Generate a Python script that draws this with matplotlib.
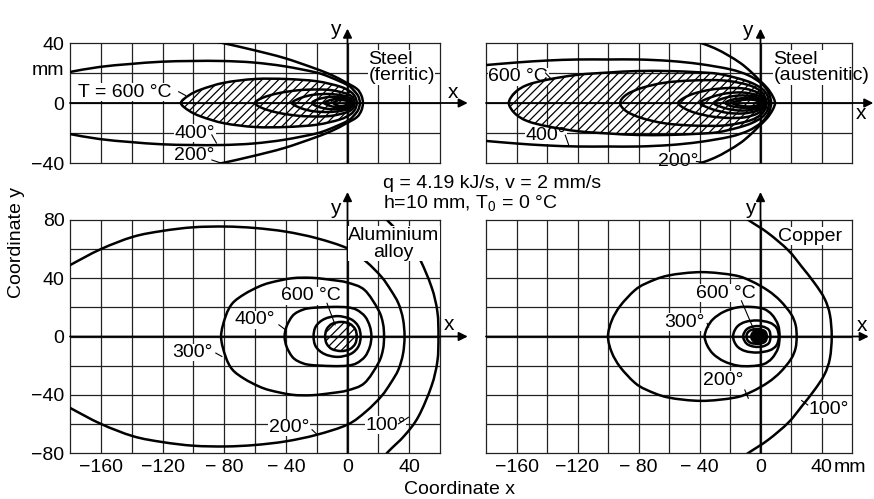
import numpy as np
import matplotlib
matplotlib.use('Agg')
import matplotlib.pyplot as plt
from matplotlib.path import Path
from matplotlib.patches import PathPatch
from matplotlib.transforms import offset_copy

plt.rcParams['font.family'] = ['Liberation Sans', 'DejaVu Sans']
plt.rcParams['mathtext.default'] = 'regular'
plt.rcParams['hatch.linewidth'] = 0.9

# isotherms, upper half only (x, y in mm); front point first
# steel, ferritic
fer_200 = [(10, 0), (9, 5), (6, 9.5), (-1.5, 14), (-10, 18.5), (-21, 23), (-41, 30), (-61, 35.3), (-81, 40), (-95, 43)]
fer_400 = [(8, 0), (7, 4.5), (4, 8.5), (0, 12), (-12, 17.5), (-21, 20.5), (-41, 24.5), (-61, 27), (-81, 28),
           (-101, 28), (-121, 27.5), (-141, 26), (-161, 24), (-181, 20.5), (-190, 18.5)]
fer_600 = [(6, 0), (5, 4), (2, 7.5), (-5, 11), (-20, 14.5), (-40, 16), (-60, 16), (-80, 13.5), (-95, 9), (-103, 5), (-108, 0)]
fer_inner = [
    [(4.5, 0), (3.5, 3.5), (0, 6), (-10, 8.5), (-20, 9), (-32, 8.5), (-45, 6.5), (-55, 3.5), (-60, 0)],
    [(3, 0), (2, 3), (-3, 5), (-12, 6), (-22, 5.5), (-30, 3.5), (-36, 0)],
    [(2, 0), (1, 2.5), (-4, 4), (-12, 4), (-19, 2.5), (-23, 0)],
    [(1, 0), (0, 2), (-5, 3), (-11, 2), (-15, 0)],
    [(0, 0), (-1, 1.5), (-5, 2), (-8, 1), (-9, 0)],
]
# steel, austenitic
aus_200 = [(9.5, 0), (8, 4.5), (4.4, 10), (-1, 15.5), (-6.5, 21), (-13, 26.5), (-21.6, 32), (-30, 36.5), (-39, 40), (-50, 44)]
aus_400 = [(7, 0), (6, 5), (4, 9), (0, 13.5), (-8, 18.5), (-20, 22.5), (-40, 26), (-59, 28), (-80, 29), (-100, 29),
           (-120, 29), (-140, 28.3), (-160, 27), (-180, 25.3), (-190, 24.5)]
aus_600 = [(5.5, 0), (4.5, 5), (1, 9.5), (-6, 13.5), (-15, 16.5), (-28, 19.5), (-41, 20.5), (-60, 21.3), (-81, 21.3),
           (-100, 20.3), (-120, 18.8), (-140, 15.5), (-153, 12), (-161, 7), (-165, 0)]
aus_inner = [
    [(4, 0), (3, 4), (0, 8), (-8, 12), (-24, 15), (-45, 15), (-63, 13.5), (-78, 10), (-88, 5.5), (-92, 0)],
    [(3, 0), (2, 3.5), (-2, 7), (-10, 9.5), (-20, 10), (-32, 9), (-43, 6.5), (-50, 3.5), (-54, 0)],
    [(2, 0), (1, 3), (-3, 5.5), (-12, 7), (-22, 6.5), (-32, 4), (-39.5, 0)],
    [(1, 0), (0, 2.5), (-5, 4.5), (-14, 5), (-23, 3.5), (-30.6, 0)],
    [(0, 0), (-1, 2), (-6, 3.3), (-14, 3), (-20, 1.8), (-23, 0)],
    [(-1, 0), (-2, 1.5), (-7, 2.3), (-13, 1.8), (-18.6, 0)],
]
# aluminium alloy
alu_100 = [(59, 0), (58.3, 17), (54.5, 34), (46, 55), (37, 68), (26.5, 79), (18, 89)]
alu_200 = [(37, 0), (36, 12), (33, 22.8), (28, 32), (22, 41), (12, 51.5), (0, 60.5), (-20, 67.5), (-40, 72),
           (-60, 74.5), (-79, 75.5), (-100, 75), (-120, 72.5), (-139, 68.5), (-160, 60), (-180, 49), (-190, 43)]
alu_300 = [(23.7, 0), (23, 9), (20, 18.3), (11, 32), (0, 37), (-10, 38.8), (-23, 40.3), (-36, 40), (-50, 37),
           (-57.6, 34.2), (-67, 29), (-74.6, 22.8), (-79, 14), (-82, 0)]
alu_400 = [(15.5, 0), (14.5, 7), (11.4, 13.7), (6, 18.3), (0, 20), (-10, 20.3), (-25, 19.4), (-32, 17),
           (-36, 13.7), (-39.5, 7), (-40.8, 0)]
alu_500 = [(8.5, 0), (7, 7), (2, 12), (-6.5, 14), (-15, 12), (-20.5, 7), (-22, 0)]
alu_600 = [(6, 0), (5, 5), (1.5, 8.7), (-4, 10), (-10, 8.7), (-13.5, 5), (-14.5, 0)]
# copper
cu_100 = [(46.7, 0), (45.5, 15), (42, 26), (35.7, 36.3), (27, 48), (18.2, 59.2), (5, 71), (-8, 80), (-16, 86)]
cu_200 = [(23.7, 0), (23, 8), (20, 15.5), (13, 24.5), (5, 31.5), (-6, 38), (-17, 42), (-38.8, 44.2),
          (-60.8, 41.8), (-75, 36.5), (-82.7, 31.5), (-92, 21), (-97.5, 11), (-100, 0)]
cu_300 = [(12.5, 0), (11.5, 8), (7.5, 15), (2, 19), (-6, 20.3), (-15, 20), (-24, 17), (-31, 12), (-35, 6), (-36.6, 0)]
cu_inner = [
    [(12, 0), (10.5, 6), (6, 9.5), (-2, 11), (-10, 10), (-15.5, 6.5), (-18, 0)],
    [(6.5, 0), (5.5, 4.5), (1.5, 6.8), (-4, 7), (-9, 5), (-11.4, 0)],
    [(4, 0), (3, 3.5), (-1, 5), (-6, 4.5), (-8.5, 2.5), (-9.2, 0)],
]
cu_600 = [(4, 0), (3, 3), (0, 4.5), (-3.5, 4), (-5.5, 2), (-6, 0)]

x_ticks = [-160, -120, -80, -40, 0, 40]
x_ticklabels = ['\u2212160', '\u2212120', '\u2212 80', '\u2212 40', '0', '40']

FS = 14
HATCH = '////'


def smooth(pts, closed):
    P = np.array(pts, float)
    n = len(P)
    verts = [P[0]]
    codes = [Path.MOVETO]
    m = n if closed else n - 1
    for i in range(m):
        p0 = P[(i - 1) % n] if (closed or i > 0) else P[i]
        p1 = P[i]
        p2 = P[(i + 1) % n]
        p3 = P[(i + 2) % n] if (closed or i + 2 < n) else P[i + 1]
        verts += [p1 + (p2 - p0) / 6, p2 - (p3 - p1) / 6, p2]
        codes += [Path.CURVE4] * 3
    if closed:
        verts.append(P[0])
        codes.append(Path.CLOSEPOLY)
    return Path(verts, codes)


def isotherm(ax, half, closed=True, hatch=None, face='none'):
    lower = [(x, -y) for x, y in half]
    if closed:
        pts = list(half) + lower[-2:0:-1]
    else:
        pts = lower[::-1] + list(half[1:])
    ax.add_patch(PathPatch(smooth(pts, closed), facecolor=face, edgecolor='k',
                           lw=1.8, hatch=hatch, zorder=3))


def panel(rect, ytop, xtip, xlab, ylab):
    ax = fig.add_axes(rect)
    ax.set_xlim(-180, 60)
    ax.set_ylim(-ytop, ytop)
    for x in np.arange(-160, 60, 20):
        ax.axvline(x, color='#222222', lw=0.9, zorder=1)
    for y in np.arange(-ytop + 20, ytop, 20):
        ax.axhline(y, color='#222222', lw=0.9, zorder=1)
    for s in ax.spines.values():
        s.set_linewidth(0.9)
        s.set_color('#222222')
    ax.set_xticks([])
    ax.set_yticks([])
    ax.tick_params(length=0, labelsize=FS, pad=4)
    arrow = dict(arrowstyle='-|>', color='k', lw=1.3, mutation_scale=13, shrinkA=0, shrinkB=0)
    ax.annotate('', xy=(xtip, 0), xytext=(-180, 0), arrowprops=arrow, annotation_clip=False, zorder=4)
    ax.annotate('', xy=(0, ytop * 1.24), xytext=(0, -ytop), arrowprops=arrow, annotation_clip=False, zorder=4)
    ax.text(xlab[0], xlab[1], 'x', fontsize=FS + 1, ha='center', va='center', clip_on=False)
    ax.text(ylab[0], ylab[1], 'y', fontsize=FS + 1, ha='center', va='center', clip_on=False)
    return ax


def label(ax, x, y, s, leader=None, **kw):
    ax.text(x, y, s, fontsize=FS, ha=kw.pop('ha', 'left'), va=kw.pop('va', 'center'), zorder=2.5,
            bbox=dict(facecolor='white', edgecolor='none', pad=0.3), **kw)
    if leader:
        ax.plot([leader[0], leader[2]], [leader[1], leader[3]], color='k', lw=0.8, zorder=3)


fig = plt.figure(figsize=(8.74, 4.99), dpi=100)

# steel ferritic
ax1 = panel([70 / 874, 1 - 163 / 499, 370 / 874, 120 / 499], 40, 78, (68.7, 6.7), (-8, 48.7))
isotherm(ax1, fer_200, closed=False)
isotherm(ax1, fer_400, closed=False)
isotherm(ax1, fer_600, hatch=HATCH)
for c in fer_inner:
    isotherm(ax1, c)
ax1.set_yticks([40, 23, 0, -40], ['40', 'mm', '0', '\u221240'])
label(ax1, 13.6, 35, 'Steel\n(ferritic)', va='top', linespacing=1.0)
label(ax1, -174.5, 7.3, 'T = 600 \u00b0C', leader=(-109.5, 7.5, -105, 5))
label(ax1, -112, -20, '400\u00b0', leader=(-88, -21.3, -85, -26.7))
label(ax1, -112.8, -34.7, '200\u00b0', leader=(-88, -38, -80, -40.7))

# steel austenitic
ax2 = panel([486 / 874, 1 - 163 / 499, 366 / 874, 120 / 499], 40, 74, (65.6, -7), (-8.7, 48.5))
isotherm(ax2, aus_200, closed=False)
isotherm(ax2, aus_400, closed=False)
isotherm(ax2, aus_600, hatch=HATCH)
for c in aus_inner:
    isotherm(ax2, c)
label(ax2, 8.5, 35, 'Steel\n(austenitic)', va='top', linespacing=1.0)
label(ax2, -178.4, 17.5, '600 \u00b0C', leader=(-141, 20, -136.6, 15.3))
label(ax2, -154, -21.5, '400\u00b0', leader=(-128, -21.5, -125.7, -28.2))
label(ax2, -67.5, -38.7, '200\u00b0', leader=(-42, -39, -37, -39.5))

# aluminium alloy
ax3 = panel([70 / 874, 1 - 453 / 499, 370 / 874, 233 / 499], 80, 78, (66, 8), (-8, 88))
isotherm(ax3, alu_100, closed=False)
isotherm(ax3, alu_200, closed=False)
isotherm(ax3, alu_300)
isotherm(ax3, alu_400)
isotherm(ax3, alu_500)
isotherm(ax3, alu_600, hatch=HATCH)
ax3.set_xticks(x_ticks, x_ticklabels)
ax3.set_yticks([80, 40, 0, -40, -80], ['80', '40', '0', '\u221240', '\u221280'])
ax3.text(30, 75.5, 'Aluminium\nalloy', fontsize=FS, ha='center', va='top', linespacing=1.0, zorder=5,
         bbox=dict(facecolor='white', edgecolor='none', pad=0.3))
label(ax3, -43.4, 28, '600 \u00b0C', leader=(-13.3, 22.8, -8, 8))
label(ax3, -73.5, 11.4, '400\u00b0', leader=(-44.5, 8, -40.2, 4.6))
label(ax3, -113.5, -11, '300\u00b0', leader=(-85.4, -11.4, -81.5, -13.7))
label(ax3, -51, -62.5, '200\u00b0', leader=(-23, -64, -20, -67))
label(ax3, 11.4, -61, '100\u00b0', leader=(33, -60, 39.5, -55.5))

# copper
ax4 = panel([486 / 874, 1 - 453 / 499, 366 / 874, 233 / 499], 80, 71, (66.4, 7.5), (-7, 88))
isotherm(ax4, cu_100, closed=False)
isotherm(ax4, cu_200)
isotherm(ax4, cu_300)
for c in cu_inner:
    isotherm(ax4, c)
isotherm(ax4, cu_600, face='k')
ax4.set_xticks(x_ticks, x_ticklabels)
ax4.text(48, -80, 'mm', fontsize=FS, ha='left', va='top',
         transform=offset_copy(ax4.transData, fig=fig, y=-4, units='points'))
label(ax4, 11.6, 69, 'Copper')
label(ax4, -42, 29.8, '600 \u00b0C', leader=(-12.5, 24.5, -3.7, 3.1))
label(ax4, -63, 9.8, '300\u00b0', leader=(-35, 9, -34, 6.5))
label(ax4, -37.5, -30, '200\u00b0', leader=(-10.3, -36.7, -8, -42.4))
label(ax4, 31.4, -50, '100\u00b0', leader=(31, -47, 27, -44))

fig.text(383 / 874, 1 - 183 / 499, 'q = 4.19 kJ/s, v = 2 mm/s', fontsize=FS, ha='left', va='center')
fig.text(383 / 874, 1 - 203 / 499, 'h=10 mm, T$_0$ = 0 \u00b0C', fontsize=FS, ha='left', va='center')
fig.text(460 / 874, 1 - 489 / 499, 'Coordinate x', fontsize=FS, ha='center', va='center')
fig.text(17 / 874, 1 - 243 / 499, 'Coordinate y', fontsize=FS, ha='center', va='center', rotation=90)

fig.savefig('out.png', dpi=100)
